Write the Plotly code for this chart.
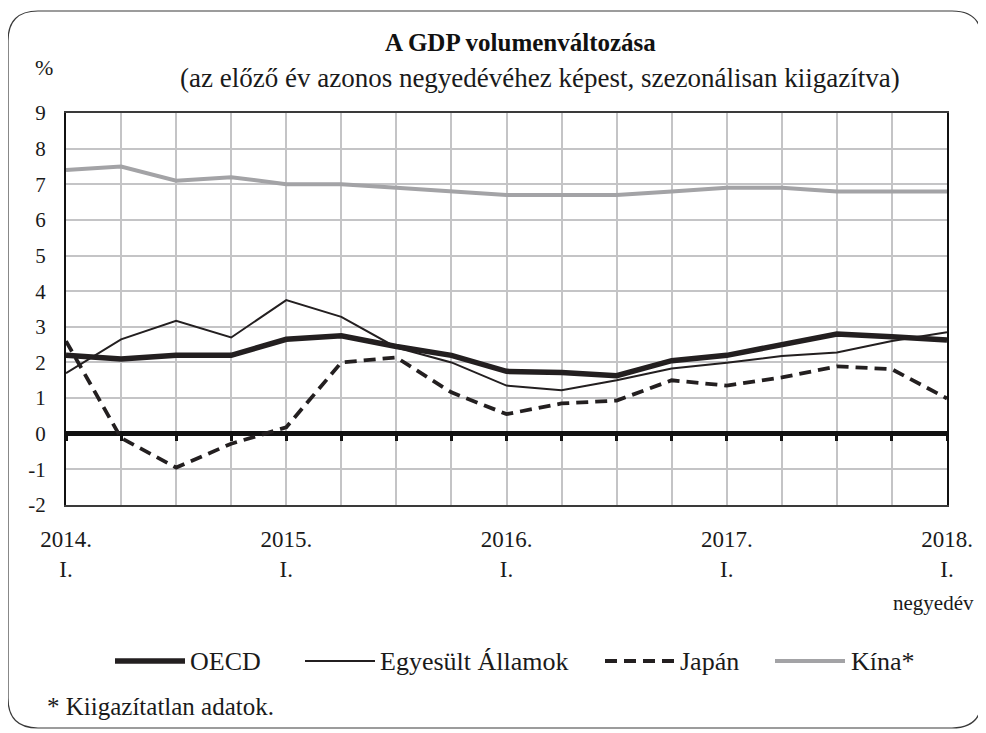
import plotly.graph_objects as go

quarters = list(range(17))
tick_pos = [0, 4, 8, 12, 16]
tick_text = ["2014.<br>I.", "2015.<br>I.", "2016.<br>I.", "2017.<br>I.", "2018.<br>I."]
x_unit = "negyedév"
y_vals = list(range(-2, 10))
y_text = [str(v) for v in y_vals]

oecd = [2.2, 2.1, 2.2, 2.2, 2.65, 2.75, 2.45, 2.2, 1.75, 1.72, 1.63, 2.05, 2.2, 2.5, 2.8, 2.72, 2.63]
usa = [1.7, 2.65, 3.17, 2.7, 3.75, 3.28, 2.42, 2.0, 1.35, 1.22, 1.5, 1.83, 1.99, 2.18, 2.28, 2.6, 2.85]
japan = [2.6, -0.12, -0.95, -0.28, 0.18, 2.0, 2.14, 1.16, 0.55, 0.85, 0.93, 1.5, 1.35, 1.58, 1.89, 1.81, 0.99]
china = [7.4, 7.5, 7.1, 7.2, 7.0, 7.0, 6.9, 6.8, 6.7, 6.7, 6.7, 6.8, 6.9, 6.9, 6.8, 6.8, 6.8]

series_names = ["OECD", "Egyesült Államok", "Japán", "Kína*"]

OFF = 8  # page body margin
W, H = 978, 725
L, T = 58, 105
PW, PH = 881, 392
R = W - L - PW
B = H - T - PH
FONT = "Liberation Serif, Times New Roman, DejaVu Serif, serif"
TXT = "#1a1a1a"


def px(x):
    return (x - OFF - L) / PW


def py(y):
    return (T + PH - (y - OFF)) / PH


styles = {
    "OECD": dict(color="#231f20", width=5.5, dash="solid"),
    "Egyesült Államok": dict(color="#231f20", width=2, dash="solid"),
    "Japán": dict(color="#231f20", width=3.8, dash="12px,7px"),
    "Kína*": dict(color="#a3a3a6", width=4, dash="solid"),
}

data_map = {"OECD": oecd, "Egyesült Államok": usa, "Japán": japan, "Kína*": china}

fig = go.Figure()
for name in ["Kína*", "Egyesült Államok", "Japán", "OECD"]:
    st = styles[name]
    fig.add_trace(go.Scatter(x=quarters, y=data_map[name], mode="lines", name=name,
                             line=dict(color=st["color"], width=st["width"], dash=st["dash"]),
                             showlegend=False))

# axis carrying the tick marks on the zero line
fig.add_trace(go.Scatter(x=[0, 16], y=[None, None], xaxis="x2", showlegend=False, hoverinfo="skip"))

grid_col = "#c4c4c6"
fig.update_layout(
    width=W, height=H,
    margin=dict(l=L, r=R, t=T, b=B, autoexpand=False),
    paper_bgcolor="white", plot_bgcolor="white",
    font=dict(family=FONT, color=TXT),
    xaxis=dict(range=[0, 16], tickvals=tick_pos, ticktext=tick_text, showgrid=True,
               gridcolor=grid_col, gridwidth=1.5,
               minor=dict(dtick=1, tick0=0, showgrid=True, gridcolor=grid_col, gridwidth=1.5),
               showline=True, linecolor="#3a3a3a", linewidth=1.5, mirror=True,
               ticks="", tickfont=dict(size=23, family=FONT, color=TXT),
               ticklabelstandoff=13, ticklabeloverflow="allow", zeroline=False, fixedrange=True),
    xaxis2=dict(range=[0, 16], overlaying="x", anchor="free", position=2 / 11,
                tickvals=quarters, showticklabels=False, ticks="outside", ticklen=6,
                tickwidth=3, tickcolor="#111", showgrid=False, showline=False, zeroline=False),
    yaxis=dict(range=[-2, 9], tickvals=y_vals, ticktext=y_text, showgrid=True, gridcolor=grid_col,
               gridwidth=1.5, showline=True, linecolor="#111", linewidth=2, mirror=True,
               zeroline=True, zerolinecolor="#111", zerolinewidth=4.5,
               ticks="", tickfont=dict(size=21, family=FONT, color=TXT),
               ticklabelstandoff=14, fixedrange=True),
)

annotations = [
    dict(x=px(520), y=py(42), text="<b>A GDP volumenváltozása</b>", font=dict(size=25, family=FONT, color="#111")),
    dict(x=px(540), y=py(78), text="(az előző év azonos negyedévéhez képest, szezonálisan kiigazítva)",
         font=dict(size=27, family=FONT, color=TXT)),
    dict(x=px(44), y=py(68), text="%", font=dict(size=22, family=FONT, color=TXT)),
    dict(x=px(45), y=py(706), text="* Kiigazítatlan adatok.", xanchor="left",
         font=dict(size=25, family=FONT, color=TXT)),
    dict(x=px(976), y=py(603), text=x_unit, xanchor="right",
         font=dict(size=21, family=FONT, color=TXT)),
]
for a in annotations:
    a.setdefault("xanchor", "center")
    a.update(xref="paper", yref="paper", yanchor="middle", showarrow=False)

# legend drawn as shapes + labels
leg_y = 661
leg_items = [("OECD", 115, 185, 188), ("Egyesült Államok", 305, 375, 378),
             ("Japán", 605, 675, 678), ("Kína*", 775, 845, 849)]
shapes = []
for name, x0, x1, xt in leg_items:
    st = styles[name]
    shapes.append(dict(type="line", xref="paper", yref="paper", x0=px(x0), x1=px(x1), y0=py(leg_y), y1=py(leg_y),
                       line=dict(color=st["color"], width=st["width"], dash=st["dash"])))
    annotations.append(dict(x=px(xt), y=py(leg_y), text=name, xanchor="left", yanchor="middle",
                            xref="paper", yref="paper", showarrow=False,
                            font=dict(size=26, family=FONT, color=TXT)))

# rounded outer frame
x0, y0, x1, y1, r = 8, 11, 982, 728, 30
rx, ry = r / PW, r / PH
X0, X1, Y0, Y1 = px(x0), px(x1), py(y0), py(y1)
path = (f"M {X0 + rx},{Y0} L {X1 - rx},{Y0} Q {X1},{Y0} {X1},{Y0 - ry} "
        f"L {X1},{Y1 + ry} Q {X1},{Y1} {X1 - rx},{Y1} L {X0 + rx},{Y1} "
        f"Q {X0},{Y1} {X0},{Y1 + ry} L {X0},{Y0 - ry} Q {X0},{Y0} {X0 + rx},{Y0} Z")
shapes.append(dict(type="path", xref="paper", yref="paper", path=path,
                   line=dict(color="#3a3a3a", width=1.2), layer="below"))

fig.update_layout(annotations=annotations, shapes=shapes)
fig.write_html("out.html")
